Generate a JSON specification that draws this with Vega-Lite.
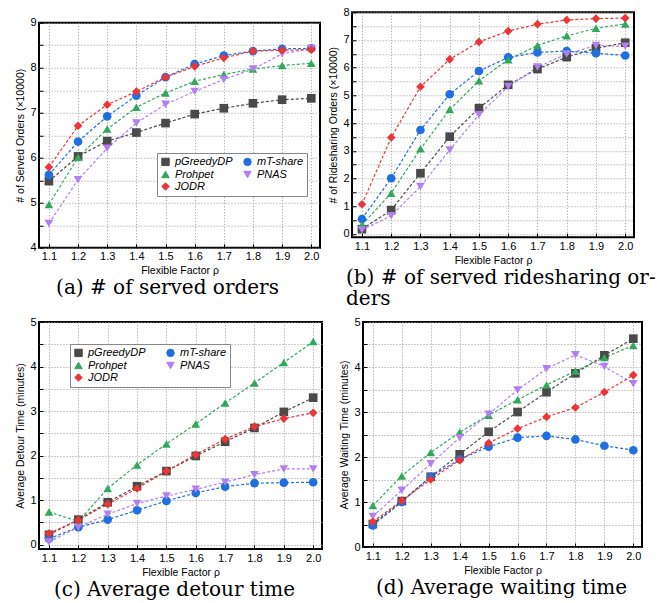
{
"$schema":"https://vega.github.io/schema/vega-lite/v6.json",
"padding":{"left":14,"top":5,"right":0,"bottom":0},
"datasets":{"d":[
{"panel":"a","method":"pGreedyDP","rho":1.1,"value":5.48},{"panel":"a","method":"pGreedyDP","rho":1.2,"value":6.03},{"panel":"a","method":"pGreedyDP","rho":1.3,"value":6.37},{"panel":"a","method":"pGreedyDP","rho":1.4,"value":6.56},{"panel":"a","method":"pGreedyDP","rho":1.5,"value":6.77},{"panel":"a","method":"pGreedyDP","rho":1.6,"value":6.97},{"panel":"a","method":"pGreedyDP","rho":1.7,"value":7.10},{"panel":"a","method":"pGreedyDP","rho":1.8,"value":7.21},{"panel":"a","method":"pGreedyDP","rho":1.9,"value":7.29},{"panel":"a","method":"pGreedyDP","rho":2.0,"value":7.32},
{"panel":"a","method":"mT-share","rho":1.1,"value":5.62},{"panel":"a","method":"mT-share","rho":1.2,"value":6.36},{"panel":"a","method":"mT-share","rho":1.3,"value":6.92},{"panel":"a","method":"mT-share","rho":1.4,"value":7.38},{"panel":"a","method":"mT-share","rho":1.5,"value":7.79},{"panel":"a","method":"mT-share","rho":1.6,"value":8.08},{"panel":"a","method":"mT-share","rho":1.7,"value":8.27},{"panel":"a","method":"mT-share","rho":1.8,"value":8.37},{"panel":"a","method":"mT-share","rho":1.9,"value":8.42},{"panel":"a","method":"mT-share","rho":2.0,"value":8.43},
{"panel":"a","method":"Prohpet","rho":1.1,"value":4.96},{"panel":"a","method":"Prohpet","rho":1.2,"value":6.01},{"panel":"a","method":"Prohpet","rho":1.3,"value":6.64},{"panel":"a","method":"Prohpet","rho":1.4,"value":7.12},{"panel":"a","method":"Prohpet","rho":1.5,"value":7.44},{"panel":"a","method":"Prohpet","rho":1.6,"value":7.70},{"panel":"a","method":"Prohpet","rho":1.7,"value":7.85},{"panel":"a","method":"Prohpet","rho":1.8,"value":7.97},{"panel":"a","method":"Prohpet","rho":1.9,"value":8.05},{"panel":"a","method":"Prohpet","rho":2.0,"value":8.10},
{"panel":"a","method":"PNAS","rho":1.1,"value":4.54},{"panel":"a","method":"PNAS","rho":1.2,"value":5.51},{"panel":"a","method":"PNAS","rho":1.3,"value":6.21},{"panel":"a","method":"PNAS","rho":1.4,"value":6.77},{"panel":"a","method":"PNAS","rho":1.5,"value":7.19},{"panel":"a","method":"PNAS","rho":1.6,"value":7.47},{"panel":"a","method":"PNAS","rho":1.7,"value":7.74},{"panel":"a","method":"PNAS","rho":1.8,"value":7.97},{"panel":"a","method":"PNAS","rho":1.9,"value":8.31},{"panel":"a","method":"PNAS","rho":2.0,"value":8.43},
{"panel":"a","method":"JODR","rho":1.1,"value":5.79},{"panel":"a","method":"JODR","rho":1.2,"value":6.71},{"panel":"a","method":"JODR","rho":1.3,"value":7.18},{"panel":"a","method":"JODR","rho":1.4,"value":7.47},{"panel":"a","method":"JODR","rho":1.5,"value":7.79},{"panel":"a","method":"JODR","rho":1.6,"value":8.03},{"panel":"a","method":"JODR","rho":1.7,"value":8.22},{"panel":"a","method":"JODR","rho":1.8,"value":8.37},{"panel":"a","method":"JODR","rho":1.9,"value":8.39},{"panel":"a","method":"JODR","rho":2.0,"value":8.40},
{"panel":"b","method":"pGreedyDP","rho":1.1,"value":0.17},{"panel":"b","method":"pGreedyDP","rho":1.2,"value":0.86},{"panel":"b","method":"pGreedyDP","rho":1.3,"value":2.19},{"panel":"b","method":"pGreedyDP","rho":1.4,"value":3.51},{"panel":"b","method":"pGreedyDP","rho":1.5,"value":4.54},{"panel":"b","method":"pGreedyDP","rho":1.6,"value":5.38},{"panel":"b","method":"pGreedyDP","rho":1.7,"value":5.95},{"panel":"b","method":"pGreedyDP","rho":1.8,"value":6.38},{"panel":"b","method":"pGreedyDP","rho":1.9,"value":6.70},{"panel":"b","method":"pGreedyDP","rho":2.0,"value":6.90},
{"panel":"b","method":"mT-share","rho":1.1,"value":0.54},{"panel":"b","method":"mT-share","rho":1.2,"value":2.01},{"panel":"b","method":"mT-share","rho":1.3,"value":3.75},{"panel":"b","method":"mT-share","rho":1.4,"value":5.04},{"panel":"b","method":"mT-share","rho":1.5,"value":5.88},{"panel":"b","method":"mT-share","rho":1.6,"value":6.37},{"panel":"b","method":"mT-share","rho":1.7,"value":6.55},{"panel":"b","method":"mT-share","rho":1.8,"value":6.60},{"panel":"b","method":"mT-share","rho":1.9,"value":6.52},{"panel":"b","method":"mT-share","rho":2.0,"value":6.44},
{"panel":"b","method":"Prohpet","rho":1.1,"value":0.33},{"panel":"b","method":"Prohpet","rho":1.2,"value":1.47},{"panel":"b","method":"Prohpet","rho":1.3,"value":3.07},{"panel":"b","method":"Prohpet","rho":1.4,"value":4.49},{"panel":"b","method":"Prohpet","rho":1.5,"value":5.53},{"panel":"b","method":"Prohpet","rho":1.6,"value":6.29},{"panel":"b","method":"Prohpet","rho":1.7,"value":6.80},{"panel":"b","method":"Prohpet","rho":1.8,"value":7.15},{"panel":"b","method":"Prohpet","rho":1.9,"value":7.42},{"panel":"b","method":"Prohpet","rho":2.0,"value":7.58},
{"panel":"b","method":"PNAS","rho":1.1,"value":0.14},{"panel":"b","method":"PNAS","rho":1.2,"value":0.66},{"panel":"b","method":"PNAS","rho":1.3,"value":1.71},{"panel":"b","method":"PNAS","rho":1.4,"value":3.03},{"panel":"b","method":"PNAS","rho":1.5,"value":4.30},{"panel":"b","method":"PNAS","rho":1.6,"value":5.32},{"panel":"b","method":"PNAS","rho":1.7,"value":6.02},{"panel":"b","method":"PNAS","rho":1.8,"value":6.49},{"panel":"b","method":"PNAS","rho":1.9,"value":6.80},{"panel":"b","method":"PNAS","rho":2.0,"value":6.77},
{"panel":"b","method":"JODR","rho":1.1,"value":1.07},{"panel":"b","method":"JODR","rho":1.2,"value":3.48},{"panel":"b","method":"JODR","rho":1.3,"value":5.31},{"panel":"b","method":"JODR","rho":1.4,"value":6.30},{"panel":"b","method":"JODR","rho":1.5,"value":6.93},{"panel":"b","method":"JODR","rho":1.6,"value":7.32},{"panel":"b","method":"JODR","rho":1.7,"value":7.57},{"panel":"b","method":"JODR","rho":1.8,"value":7.72},{"panel":"b","method":"JODR","rho":1.9,"value":7.77},{"panel":"b","method":"JODR","rho":2.0,"value":7.79},
{"panel":"c","method":"pGreedyDP","rho":1.1,"value":0.22},{"panel":"c","method":"pGreedyDP","rho":1.2,"value":0.56},{"panel":"c","method":"pGreedyDP","rho":1.3,"value":0.95},{"panel":"c","method":"pGreedyDP","rho":1.4,"value":1.31},{"panel":"c","method":"pGreedyDP","rho":1.5,"value":1.65},{"panel":"c","method":"pGreedyDP","rho":1.6,"value":1.99},{"panel":"c","method":"pGreedyDP","rho":1.7,"value":2.31},{"panel":"c","method":"pGreedyDP","rho":1.8,"value":2.62},{"panel":"c","method":"pGreedyDP","rho":1.9,"value":2.98},{"panel":"c","method":"pGreedyDP","rho":2.0,"value":3.30},
{"panel":"c","method":"mT-share","rho":1.1,"value":0.13},{"panel":"c","method":"mT-share","rho":1.2,"value":0.39},{"panel":"c","method":"mT-share","rho":1.3,"value":0.56},{"panel":"c","method":"mT-share","rho":1.4,"value":0.77},{"panel":"c","method":"mT-share","rho":1.5,"value":0.98},{"panel":"c","method":"mT-share","rho":1.6,"value":1.16},{"panel":"c","method":"mT-share","rho":1.7,"value":1.30},{"panel":"c","method":"mT-share","rho":1.8,"value":1.38},{"panel":"c","method":"mT-share","rho":1.9,"value":1.39},{"panel":"c","method":"mT-share","rho":2.0,"value":1.40},
{"panel":"c","method":"Prohpet","rho":1.1,"value":0.73},{"panel":"c","method":"Prohpet","rho":1.2,"value":0.52},{"panel":"c","method":"Prohpet","rho":1.3,"value":1.26},{"panel":"c","method":"Prohpet","rho":1.4,"value":1.79},{"panel":"c","method":"Prohpet","rho":1.5,"value":2.26},{"panel":"c","method":"Prohpet","rho":1.6,"value":2.71},{"panel":"c","method":"Prohpet","rho":1.7,"value":3.18},{"panel":"c","method":"Prohpet","rho":1.8,"value":3.63},{"panel":"c","method":"Prohpet","rho":1.9,"value":4.09},{"panel":"c","method":"Prohpet","rho":2.0,"value":4.56},
{"panel":"c","method":"PNAS","rho":1.1,"value":0.06},{"panel":"c","method":"PNAS","rho":1.2,"value":0.39},{"panel":"c","method":"PNAS","rho":1.3,"value":0.68},{"panel":"c","method":"PNAS","rho":1.4,"value":0.92},{"panel":"c","method":"PNAS","rho":1.5,"value":1.09},{"panel":"c","method":"PNAS","rho":1.6,"value":1.24},{"panel":"c","method":"PNAS","rho":1.7,"value":1.40},{"panel":"c","method":"PNAS","rho":1.8,"value":1.57},{"panel":"c","method":"PNAS","rho":1.9,"value":1.70},{"panel":"c","method":"PNAS","rho":2.0,"value":1.70},
{"panel":"c","method":"JODR","rho":1.1,"value":0.25},{"panel":"c","method":"JODR","rho":1.2,"value":0.55},{"panel":"c","method":"JODR","rho":1.3,"value":0.91},{"panel":"c","method":"JODR","rho":1.4,"value":1.26},{"panel":"c","method":"JODR","rho":1.5,"value":1.65},{"panel":"c","method":"JODR","rho":1.6,"value":2.02},{"panel":"c","method":"JODR","rho":1.7,"value":2.37},{"panel":"c","method":"JODR","rho":1.8,"value":2.65},{"panel":"c","method":"JODR","rho":1.9,"value":2.83},{"panel":"c","method":"JODR","rho":2.0,"value":2.96},
{"panel":"d","method":"pGreedyDP","rho":1.1,"value":0.51},{"panel":"d","method":"pGreedyDP","rho":1.2,"value":1.02},{"panel":"d","method":"pGreedyDP","rho":1.3,"value":1.56},{"panel":"d","method":"pGreedyDP","rho":1.4,"value":2.06},{"panel":"d","method":"pGreedyDP","rho":1.5,"value":2.56},{"panel":"d","method":"pGreedyDP","rho":1.6,"value":3.00},{"panel":"d","method":"pGreedyDP","rho":1.7,"value":3.44},{"panel":"d","method":"pGreedyDP","rho":1.8,"value":3.86},{"panel":"d","method":"pGreedyDP","rho":1.9,"value":4.26},{"panel":"d","method":"pGreedyDP","rho":2.0,"value":4.63},
{"panel":"d","method":"mT-share","rho":1.1,"value":0.48},{"panel":"d","method":"mT-share","rho":1.2,"value":1.00},{"panel":"d","method":"mT-share","rho":1.3,"value":1.56},{"panel":"d","method":"mT-share","rho":1.4,"value":1.95},{"panel":"d","method":"mT-share","rho":1.5,"value":2.23},{"panel":"d","method":"mT-share","rho":1.6,"value":2.43},{"panel":"d","method":"mT-share","rho":1.7,"value":2.47},{"panel":"d","method":"mT-share","rho":1.8,"value":2.39},{"panel":"d","method":"mT-share","rho":1.9,"value":2.25},{"panel":"d","method":"mT-share","rho":2.0,"value":2.15},
{"panel":"d","method":"Prohpet","rho":1.1,"value":0.92},{"panel":"d","method":"Prohpet","rho":1.2,"value":1.58},{"panel":"d","method":"Prohpet","rho":1.3,"value":2.10},{"panel":"d","method":"Prohpet","rho":1.4,"value":2.55},{"panel":"d","method":"Prohpet","rho":1.5,"value":2.93},{"panel":"d","method":"Prohpet","rho":1.6,"value":3.27},{"panel":"d","method":"Prohpet","rho":1.7,"value":3.60},{"panel":"d","method":"Prohpet","rho":1.8,"value":3.91},{"panel":"d","method":"Prohpet","rho":1.9,"value":4.21},{"panel":"d","method":"Prohpet","rho":2.0,"value":4.48},
{"panel":"d","method":"PNAS","rho":1.1,"value":0.68},{"panel":"d","method":"PNAS","rho":1.2,"value":1.26},{"panel":"d","method":"PNAS","rho":1.3,"value":1.85},{"panel":"d","method":"PNAS","rho":1.4,"value":2.43},{"panel":"d","method":"PNAS","rho":1.5,"value":2.95},{"panel":"d","method":"PNAS","rho":1.6,"value":3.49},{"panel":"d","method":"PNAS","rho":1.7,"value":3.96},{"panel":"d","method":"PNAS","rho":1.8,"value":4.27},{"panel":"d","method":"PNAS","rho":1.9,"value":4.01},{"panel":"d","method":"PNAS","rho":2.0,"value":3.63},
{"panel":"d","method":"JODR","rho":1.1,"value":0.56},{"panel":"d","method":"JODR","rho":1.2,"value":1.03},{"panel":"d","method":"JODR","rho":1.3,"value":1.50},{"panel":"d","method":"JODR","rho":1.4,"value":1.93},{"panel":"d","method":"JODR","rho":1.5,"value":2.31},{"panel":"d","method":"JODR","rho":1.6,"value":2.63},{"panel":"d","method":"JODR","rho":1.7,"value":2.89},{"panel":"d","method":"JODR","rho":1.8,"value":3.10},{"panel":"d","method":"JODR","rho":1.9,"value":3.44},{"panel":"d","method":"JODR","rho":2.0,"value":3.82}
]},
"data":{"name":"d"},
"spacing":5,
"vconcat":[
{"hconcat":[
{"width":281,"height":225,
"transform":[{"filter":"datum.panel == 'a'"}],
"title":{"text":"(a) # of served orders","dx":-12},
"encoding":{
"x":{"field":"rho","type":"quantitative","scale":{"domain":[1.066,2.03],"nice":false,"zero":false},"axis":{"values":[1.1,1.2,1.3,1.4,1.5,1.6,1.7,1.8,1.9,2.0],"format":".1f","title":"Flexible Factor ρ"}},
"y":{"field":"value","type":"quantitative","scale":{"domain":[4,9],"nice":false,"zero":false},"axis":{"values":[4,4.5,5,5.5,6,6.5,7,7.5,8,8.5,9],"labelExpr":"datum.value % 1 == 0 ? format(datum.value, 'd') : ''","title":"# of Served Orders (×10000)"}},
"color":{"field":"method","type":"nominal","scale":{"domain":["pGreedyDP","Prohpet","JODR","mT-share","PNAS"],"range":["#4a4a4a","#2fa85c","#ee3535","#1f6fe0","#b27ff0"]},"legend":{"legendX":118,"legendY":141}}
},
"layer":[
{"mark":{"type":"line","strokeDash":[3,2],"strokeWidth":1.2}},
{"mark":{"type":"point","filled":true,"size":75,"opacity":1},"encoding":{"shape":{"field":"method","type":"nominal","scale":{"domain":["pGreedyDP","Prohpet","JODR","mT-share","PNAS"],"range":["square","triangle-up","diamond","circle","triangle-down"]},"legend":{"legendX":118,"legendY":141}}}}
]},
{"width":282,"height":225,
"transform":[{"filter":"datum.panel == 'b'"}],
"title":{"text":["(b) # of served ridesharing or-","ders"],"anchor":"start","dx":-6,"offset":2},
"encoding":{
"x":{"field":"rho","type":"quantitative","scale":{"domain":[1.066,2.03],"nice":false,"zero":false},"axis":{"values":[1.1,1.2,1.3,1.4,1.5,1.6,1.7,1.8,1.9,2.0],"format":".1f","title":"Flexible Factor ρ"}},
"y":{"field":"value","type":"quantitative","scale":{"domain":[-0.12,8],"nice":false,"zero":false},"axis":{"values":[0,0.5,1,1.5,2,2.5,3,3.5,4,4.5,5,5.5,6,6.5,7,7.5,8],"labelExpr":"datum.value % 1 == 0 ? format(datum.value, 'd') : ''","title":"# of Ridesharing Orders (×10000)"}},
"color":{"field":"method","type":"nominal","scale":{"domain":["pGreedyDP","Prohpet","JODR","mT-share","PNAS"],"range":["#4a4a4a","#2fa85c","#ee3535","#1f6fe0","#b27ff0"]},"legend":{"legendX":119,"legendY":153}}
},
"layer":[
{"mark":{"type":"line","strokeDash":[3,2],"strokeWidth":1.2}},
{"mark":{"type":"point","filled":true,"size":75,"opacity":1},"encoding":{"shape":{"field":"method","type":"nominal","scale":{"domain":["pGreedyDP","Prohpet","JODR","mT-share","PNAS"],"range":["square","triangle-up","diamond","circle","triangle-down"]},"legend":{"legendX":119,"legendY":153}}}}
]}
],"spacing":6,"center":true},
{"hconcat":[
{"width":283,"height":227,
"transform":[{"filter":"datum.panel == 'c'"}],
"title":{"text":"(c) Average detour time","dx":-6},
"encoding":{
"x":{"field":"rho","type":"quantitative","scale":{"domain":[1.066,2.03],"nice":false,"zero":false},"axis":{"values":[1.1,1.2,1.3,1.4,1.5,1.6,1.7,1.8,1.9,2.0],"format":".1f","title":"Flexible Factor ρ"}},
"y":{"field":"value","type":"quantitative","scale":{"domain":[-0.1,5],"nice":false,"zero":false},"axis":{"values":[0,0.5,1,1.5,2,2.5,3,3.5,4,4.5,5],"labelExpr":"datum.value % 1 == 0 ? format(datum.value, 'd') : ''","title":"Average Detour Time (minutes)"}},
"color":{"field":"method","type":"nominal","scale":{"domain":["pGreedyDP","Prohpet","JODR","mT-share","PNAS"],"range":["#4a4a4a","#2fa85c","#ee3535","#1f6fe0","#b27ff0"]},"legend":{"legendX":31,"legendY":22}}
},
"layer":[
{"mark":{"type":"line","strokeDash":[3,2],"strokeWidth":1.2}},
{"mark":{"type":"point","filled":true,"size":75,"opacity":1},"encoding":{"shape":{"field":"method","type":"nominal","scale":{"domain":["pGreedyDP","Prohpet","JODR","mT-share","PNAS"],"range":["square","triangle-up","diamond","circle","triangle-down"]},"legend":{"legendX":31,"legendY":22}}}}
]},
{"width":279,"height":225,
"transform":[{"filter":"datum.panel == 'd'"}],
"title":{"text":"(d) Average waiting time","dx":-1},
"encoding":{
"x":{"field":"rho","type":"quantitative","scale":{"domain":[1.066,2.03],"nice":false,"zero":false},"axis":{"values":[1.1,1.2,1.3,1.4,1.5,1.6,1.7,1.8,1.9,2.0],"format":".1f","title":"Flexible Factor ρ"}},
"y":{"field":"value","type":"quantitative","scale":{"domain":[0,5],"nice":false,"zero":false},"axis":{"values":[0,0.5,1,1.5,2,2.5,3,3.5,4,4.5,5],"labelExpr":"datum.value % 1 == 0 ? format(datum.value, 'd') : ''","title":"Average Waiting Time (minutes)"}},
"color":{"field":"method","type":"nominal","scale":{"domain":["pGreedyDP","Prohpet","JODR","mT-share","PNAS"],"range":["#4a4a4a","#2fa85c","#ee3535","#1f6fe0","#b27ff0"]},"legend":{"legendX":104,"legendY":155,"columnPadding":18}}
},
"layer":[
{"mark":{"type":"line","strokeDash":[3,2],"strokeWidth":1.2}},
{"mark":{"type":"point","filled":true,"size":75,"opacity":1},"encoding":{"shape":{"field":"method","type":"nominal","scale":{"domain":["pGreedyDP","Prohpet","JODR","mT-share","PNAS"],"range":["square","triangle-up","diamond","circle","triangle-down"]},"legend":{"legendX":104,"legendY":155,"columnPadding":18}}}}
]}
],"spacing":15}
],
"resolve":{"scale":{"color":"independent","shape":"independent"},"legend":{"color":"independent","shape":"independent"}},
"config":{
"view":{"stroke":"black","strokeWidth":2},
"axis":{"domain":false,"grid":true,"gridColor":"#999999","gridDash":[1,2],"gridWidth":1,"tickColor":"black","tickSize":-4,"tickWidth":1,"labelPadding":7,"labelFont":"Liberation Sans","labelFontSize":11,"labelColor":"black","titleFont":"Liberation Sans","titleFontSize":10.5,"titleFontWeight":"normal","titleColor":"black","titlePadding":4,"labelAngle":0},
"legend":{"orient":"none","title":null,"columns":2,"strokeColor":"#888888","fillColor":"white","padding":3,"labelFont":"Liberation Sans","labelFontSize":11,"labelFontStyle":"italic","labelColor":"black","symbolSize":55,"rowPadding":0,"columnPadding":8,"symbolStrokeWidth":1,"labelOffset":4,"cornerRadius":0},
"title":{"orient":"bottom","frame":"group","font":"DejaVu Serif","fontSize":20,"fontWeight":"normal","color":"black","offset":2,"lineHeight":21}
}
}
